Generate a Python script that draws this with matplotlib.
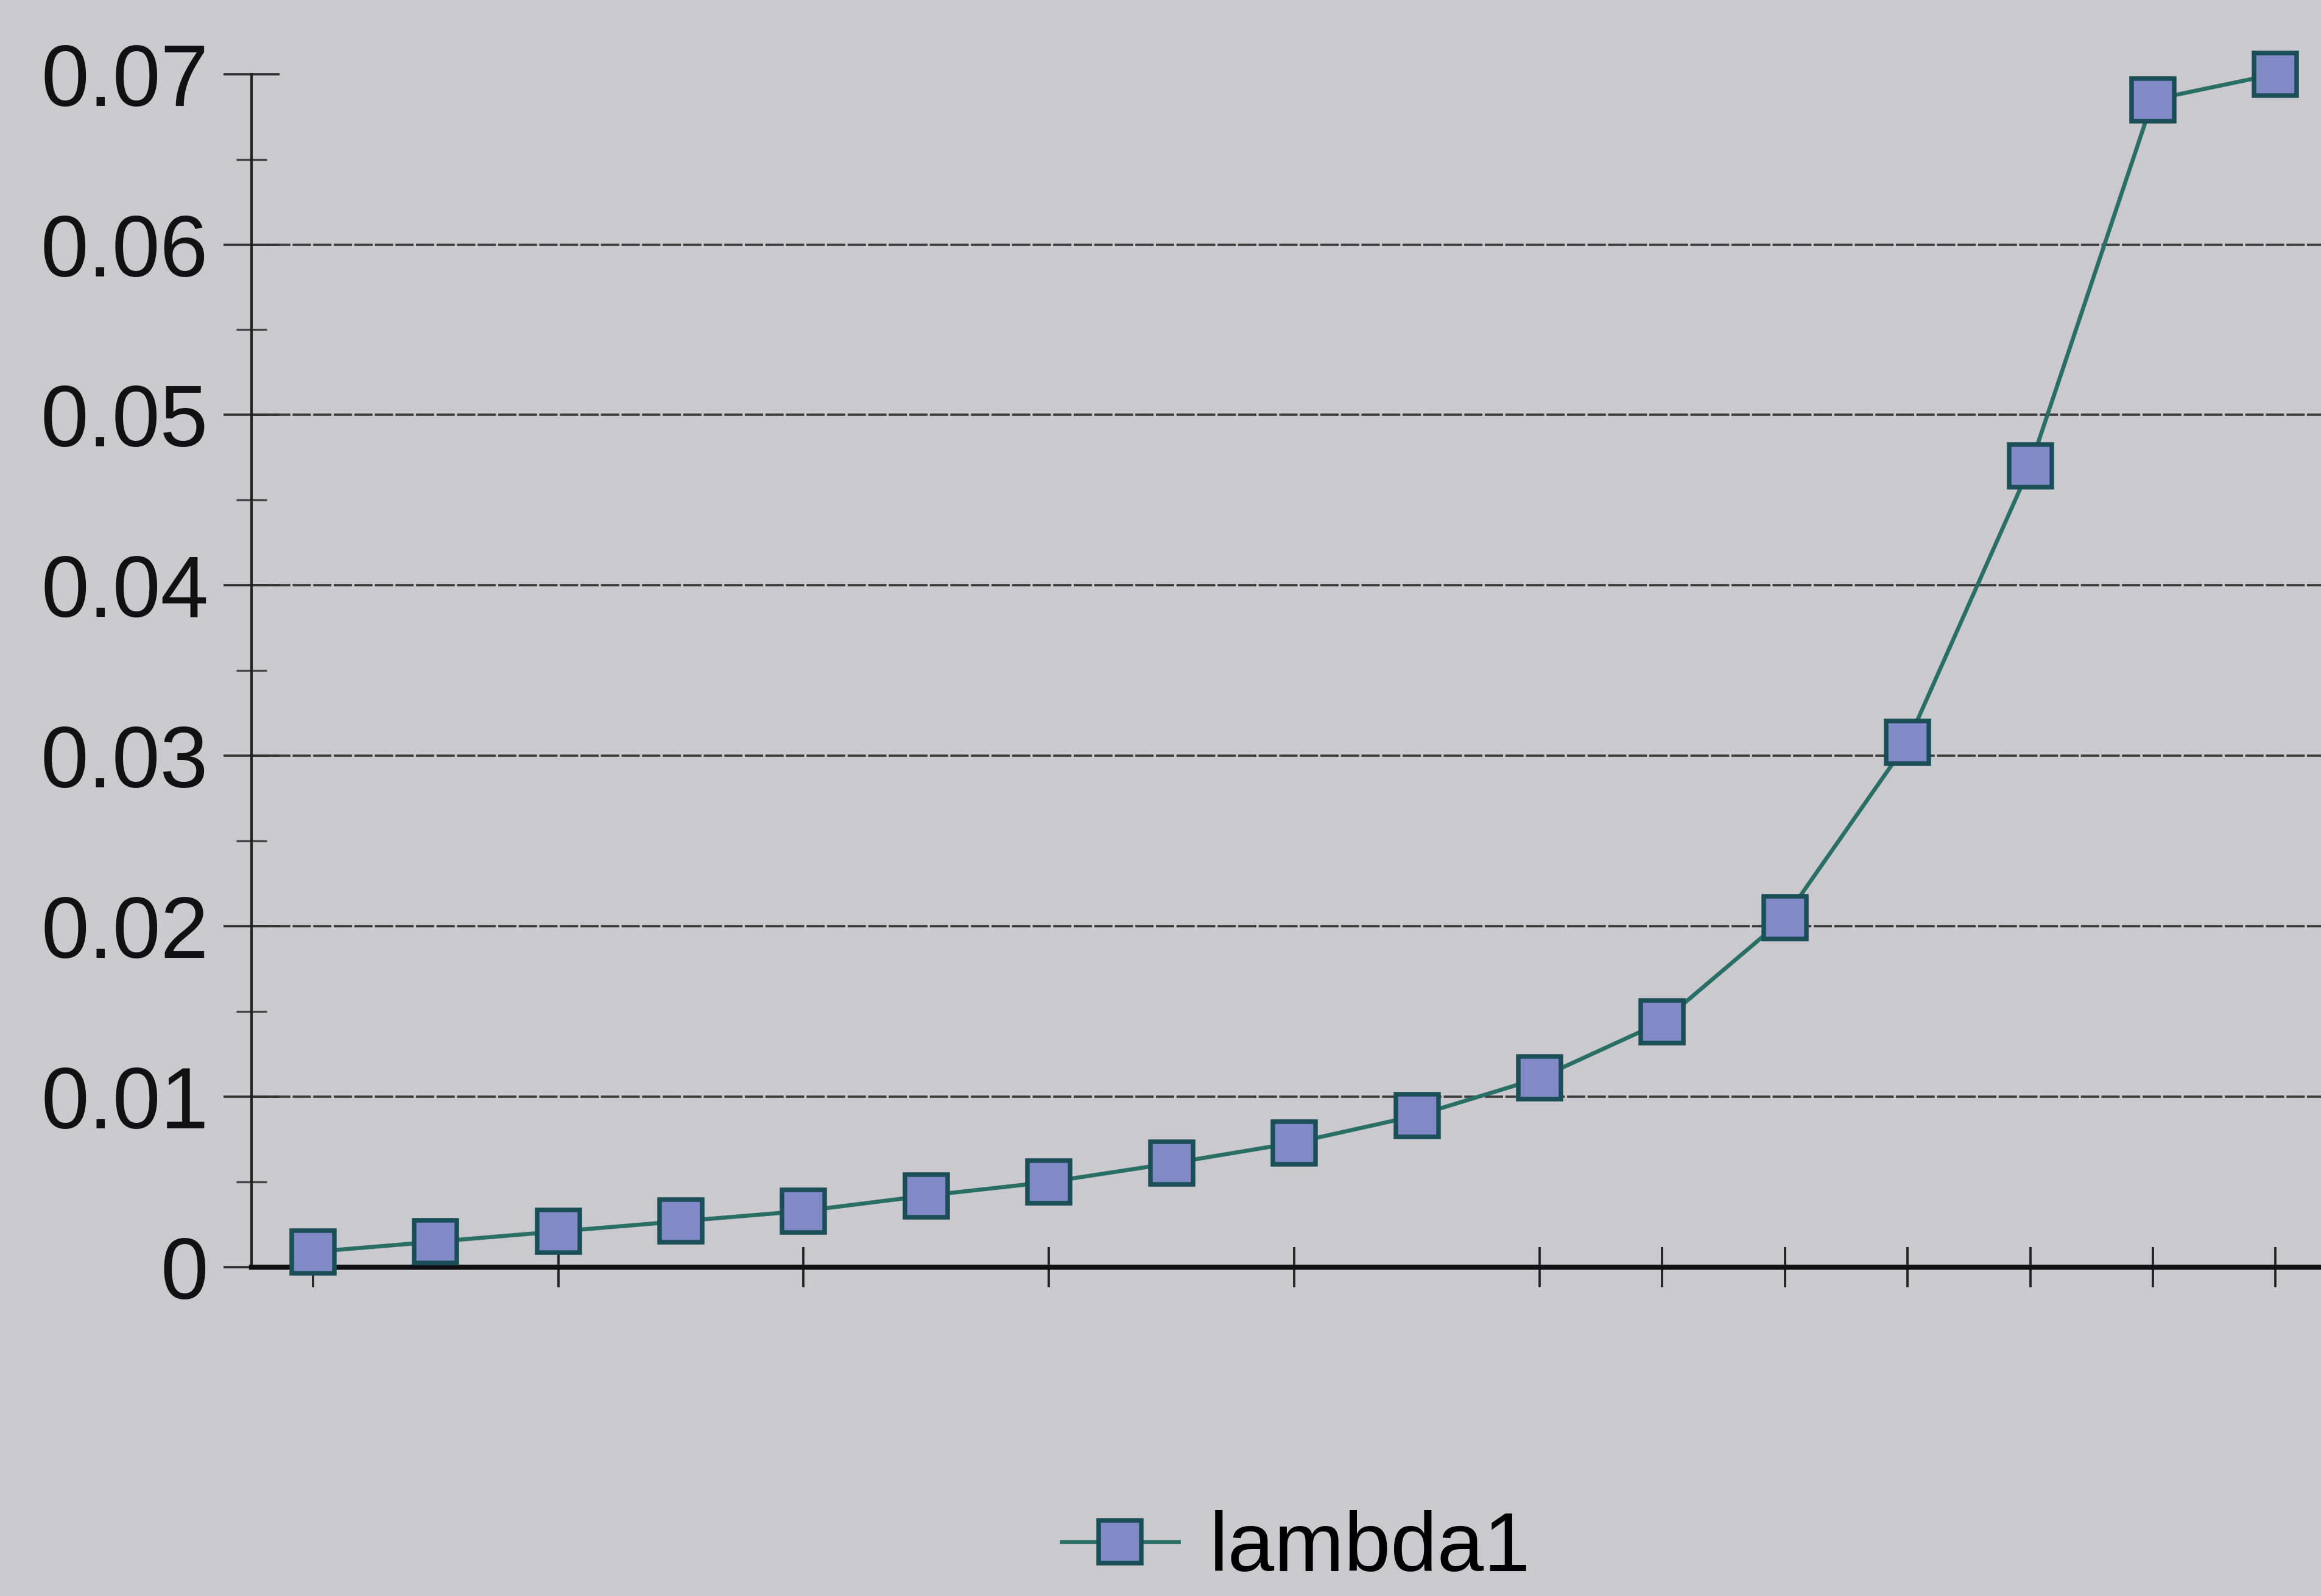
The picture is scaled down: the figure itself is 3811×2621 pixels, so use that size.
import matplotlib
matplotlib.use("Agg")
import matplotlib.pyplot as plt
from matplotlib.ticker import MultipleLocator, FuncFormatter
from matplotlib.lines import Line2D

# lambda1 series (17 evenly spaced points)
points = list(range(17))
lambda1 = [0.0009, 0.0015, 0.0021, 0.0027, 0.0033, 0.0042, 0.0050, 0.0061,
           0.0073, 0.0089, 0.0111, 0.0144, 0.0205, 0.0308, 0.0470, 0.0685, 0.0700]
x_ticks = [0, 2, 4, 6, 8, 10, 11, 12, 13, 14, 15, 16]
y_ticks = [0, 0.01, 0.02, 0.03, 0.04, 0.05, 0.06, 0.07]

BG = "#cac9ce"
LINE = "#2a6f66"
FACE = "#8189c6"
EDGE = "#1b4f58"

plt.rcParams["font.family"] = ["Liberation Sans", "DejaVu Sans"]

fig = plt.figure(figsize=(3811 / 300, 2621 / 300), dpi=300, facecolor=BG)
ax = fig.add_axes([0.1084, 0.206, 0.8916, 0.7476], facecolor=BG)

ax.plot(points, lambda1, color=LINE, lw=1.6, marker="s", ms=17,
        mfc=FACE, mec=EDGE, mew=1.8, clip_on=False, zorder=5)

ax.set_xlim(-0.5, 16.37)
ax.set_ylim(0, 0.07)
ax.set_xticks(x_ticks)
ax.set_xticklabels([])
ax.set_yticks(y_ticks)
ax.yaxis.set_minor_locator(MultipleLocator(0.005))
ax.yaxis.set_major_formatter(FuncFormatter(lambda v, _: f"{v:g}"))

for side in ("top", "right"):
    ax.spines[side].set_visible(False)
ax.spines["left"].set_linewidth(1.0)
ax.spines["left"].set_color("#222222")
ax.spines["bottom"].set_linewidth(2.0)
ax.spines["bottom"].set_color("#111111")

ax.tick_params(axis="y", which="major", direction="inout", length=22, width=0.9,
               color="#333333", labelsize=34, pad=6, labelcolor="#111111")
ax.tick_params(axis="y", which="minor", direction="inout", length=12, width=0.8,
               color="#444444")
ax.tick_params(axis="x", which="major", direction="inout", length=16, width=0.9,
               color="#222222")

ax.yaxis.grid(True, color="#3c3c3c", lw=0.9, linestyle=(0, (8, 1)))
ticks = ax.yaxis.get_major_ticks()
ticks[0].gridline.set_visible(False)
ticks[-1].gridline.set_visible(False)

handle = Line2D([], [], color=LINE, lw=1.6, marker="s", ms=17,
                mfc=FACE, mec=EDGE, mew=1.8)
fig.legend([handle], ["lambda1"], loc="center", bbox_to_anchor=(0.5584, 0.029),
           frameon=False, fontsize=33, handlelength=1.4, handletextpad=0.37)

fig.savefig("out.png", dpi=300, facecolor=BG)
